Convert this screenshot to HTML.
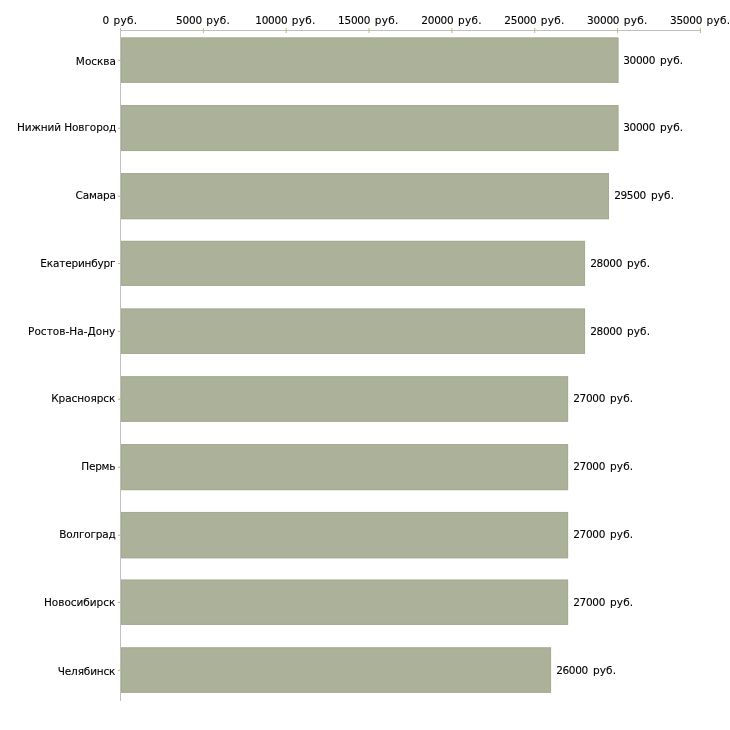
<!DOCTYPE html>
<html lang="ru"><head><meta charset="utf-8"><title>Зарплаты по городам</title>
<style>
html,body{margin:0;padding:0;background:#fff;}
body{width:730px;height:730px;overflow:hidden;}
svg{display:block;font-family:"DejaVu Sans","Liberation Sans",sans-serif;font-size:10.5px;fill:#000;}
text{stroke:#000;stroke-width:.1px;}
.bar{fill:#acb199;}
.be{fill:none;stroke:#a3a88e;stroke-width:1;stroke-opacity:.7;}
.ln{fill:#c0c0c0;}
.tk{fill:#bfbc84;}
.ad{letter-spacing:-0.25px;}
.ar{letter-spacing:0.3px;}
.vd{letter-spacing:-0.32px;}
.vr{letter-spacing:0.12px;}
</style></head><body>
<svg width="730" height="730" viewBox="0 0 730 730">

<rect class="ln" x="120.0" y="30.0" width="580.9" height="1"/>
<rect class="ln" x="120.0" y="30.0" width="1" height="670.9"/>
<rect class="tk" x="120.00" y="28" width="1" height="2"/>
<rect class="tk" x="202.84" y="28" width="1" height="5"/>
<rect class="tk" x="285.69" y="28" width="1" height="5"/>
<rect class="tk" x="368.53" y="28" width="1" height="5"/>
<rect class="tk" x="451.37" y="28" width="1" height="5"/>
<rect class="tk" x="534.21" y="28" width="1" height="5"/>
<rect class="tk" x="617.06" y="28" width="1" height="5"/>
<rect class="tk" x="699.90" y="28" width="1" height="5"/>
<text id="ax0" x="120.00" y="23.6" text-anchor="middle"><tspan class="ad">0</tspan><tspan class="ar" dx="0.8"> руб.</tspan></text>
<text id="ax1" x="203.14" y="23.6" text-anchor="middle"><tspan class="ad">5000</tspan><tspan class="ar" dx="0.8"> руб.</tspan></text>
<text id="ax2" x="285.49" y="23.6" text-anchor="middle"><tspan class="ad">10000</tspan><tspan class="ar" dx="0.8"> руб.</tspan></text>
<text id="ax3" x="368.33" y="23.6" text-anchor="middle"><tspan class="ad">15000</tspan><tspan class="ar" dx="0.8"> руб.</tspan></text>
<text id="ax4" x="451.57" y="23.6" text-anchor="middle"><tspan class="ad">20000</tspan><tspan class="ar" dx="0.8"> руб.</tspan></text>
<text id="ax5" x="534.51" y="23.6" text-anchor="middle"><tspan class="ad">25000</tspan><tspan class="ar" dx="0.8"> руб.</tspan></text>
<text id="ax6" x="617.36" y="23.6" text-anchor="middle"><tspan class="ad">30000</tspan><tspan class="ar" dx="0.8"> руб.</tspan></text>
<text id="ax7" x="700.20" y="23.6" text-anchor="middle"><tspan class="ad">35000</tspan><tspan class="ar" dx="0.8"> руб.</tspan></text>
<rect class="bar" x="121.0" y="37.45" width="497.45" height="45.43"/>
<rect class="be" x="121.50" y="37.95" width="496.45" height="44.43"/>
<rect class="tk" x="117.9" y="59.77" width="3.1" height="1.1"/>
<text id="c0" x="115.85" y="64.85" text-anchor="end" style="letter-spacing:-0.040px">Москва</text>
<text id="v0" x="623.25" y="64.00"><tspan class="vd">30000</tspan><tspan class="vr" dx="1.5"> руб.</tspan></text>
<rect class="bar" x="121.0" y="105.07" width="497.45" height="45.97"/>
<rect class="be" x="121.50" y="105.57" width="496.45" height="44.97"/>
<rect class="tk" x="117.9" y="127.66" width="3.1" height="1.1"/>
<text id="c1" x="116.20" y="130.70" text-anchor="end" style="letter-spacing:-0.107px">Нижний Новгород</text>
<text id="v1" x="623.25" y="130.70"><tspan class="vd">30000</tspan><tspan class="vr" dx="1.5"> руб.</tspan></text>
<rect class="bar" x="121.0" y="173.07" width="488.00" height="46.13"/>
<rect class="be" x="121.50" y="173.57" width="487.00" height="45.13"/>
<rect class="tk" x="117.9" y="195.73" width="3.1" height="1.1"/>
<text id="c2" x="115.85" y="199.00" text-anchor="end" style="letter-spacing:-0.156px">Самара</text>
<text id="v2" x="614.15" y="199.00"><tspan class="vd">29500</tspan><tspan class="vr" dx="1.5"> руб.</tspan></text>
<rect class="bar" x="121.0" y="240.85" width="464.05" height="45.08"/>
<rect class="be" x="121.50" y="241.35" width="463.05" height="44.08"/>
<rect class="tk" x="117.9" y="262.99" width="3.1" height="1.1"/>
<text id="c3" x="115.42" y="266.90" text-anchor="end" style="letter-spacing:-0.180px">Екатеринбург</text>
<text id="v3" x="590.20" y="266.90"><tspan class="vd">28000</tspan><tspan class="vr" dx="1.5"> руб.</tspan></text>
<rect class="bar" x="121.0" y="308.50" width="464.05" height="45.43"/>
<rect class="be" x="121.50" y="309.00" width="463.05" height="44.43"/>
<rect class="tk" x="117.9" y="330.82" width="3.1" height="1.1"/>
<text id="c4" x="115.30" y="335.00" text-anchor="end" style="letter-spacing:0.028px">Ростов-На-Дону</text>
<text id="v4" x="590.20" y="335.00"><tspan class="vd">28000</tspan><tspan class="vr" dx="1.5"> руб.</tspan></text>
<rect class="bar" x="121.0" y="376.23" width="447.10" height="45.65"/>
<rect class="be" x="121.50" y="376.73" width="446.10" height="44.65"/>
<rect class="tk" x="117.9" y="398.66" width="3.1" height="1.1"/>
<text id="c5" x="115.30" y="401.90" text-anchor="end" style="letter-spacing:-0.055px">Красноярск</text>
<text id="v5" x="573.25" y="401.90"><tspan class="vd">27000</tspan><tspan class="vr" dx="1.5"> руб.</tspan></text>
<rect class="bar" x="121.0" y="444.07" width="447.10" height="46.08"/>
<rect class="be" x="121.50" y="444.57" width="446.10" height="45.08"/>
<rect class="tk" x="117.9" y="466.71" width="3.1" height="1.1"/>
<text id="c6" x="115.25" y="470.00" text-anchor="end" style="letter-spacing:-0.240px">Пермь</text>
<text id="v6" x="573.25" y="470.00"><tspan class="vd">27000</tspan><tspan class="vr" dx="1.5"> руб.</tspan></text>
<rect class="bar" x="121.0" y="511.96" width="447.10" height="46.34"/>
<rect class="be" x="121.50" y="512.46" width="446.10" height="45.34"/>
<rect class="tk" x="117.9" y="534.73" width="3.1" height="1.1"/>
<text id="c7" x="115.48" y="538.00" text-anchor="end" style="letter-spacing:-0.206px">Волгоград</text>
<text id="v7" x="573.25" y="538.00"><tspan class="vd">27000</tspan><tspan class="vr" dx="1.5"> руб.</tspan></text>
<rect class="bar" x="121.0" y="579.60" width="447.10" height="45.28"/>
<rect class="be" x="121.50" y="580.10" width="446.10" height="44.28"/>
<rect class="tk" x="117.9" y="601.84" width="3.1" height="1.1"/>
<text id="c8" x="115.30" y="605.80" text-anchor="end" style="letter-spacing:-0.027px">Новосибирск</text>
<text id="v8" x="573.25" y="605.80"><tspan class="vd">27000</tspan><tspan class="vr" dx="1.5"> руб.</tspan></text>
<rect class="bar" x="121.0" y="647.34" width="430.05" height="45.46"/>
<rect class="be" x="121.50" y="647.84" width="429.05" height="44.46"/>
<rect class="tk" x="117.9" y="669.67" width="3.1" height="1.1"/>
<text id="c9" x="115.30" y="674.80" text-anchor="end" style="letter-spacing:-0.160px">Челябинск</text>
<text id="v9" x="556.15" y="674.10"><tspan class="vd">26000</tspan><tspan class="vr" dx="1.5"> руб.</tspan></text>
</svg>
</body></html>
